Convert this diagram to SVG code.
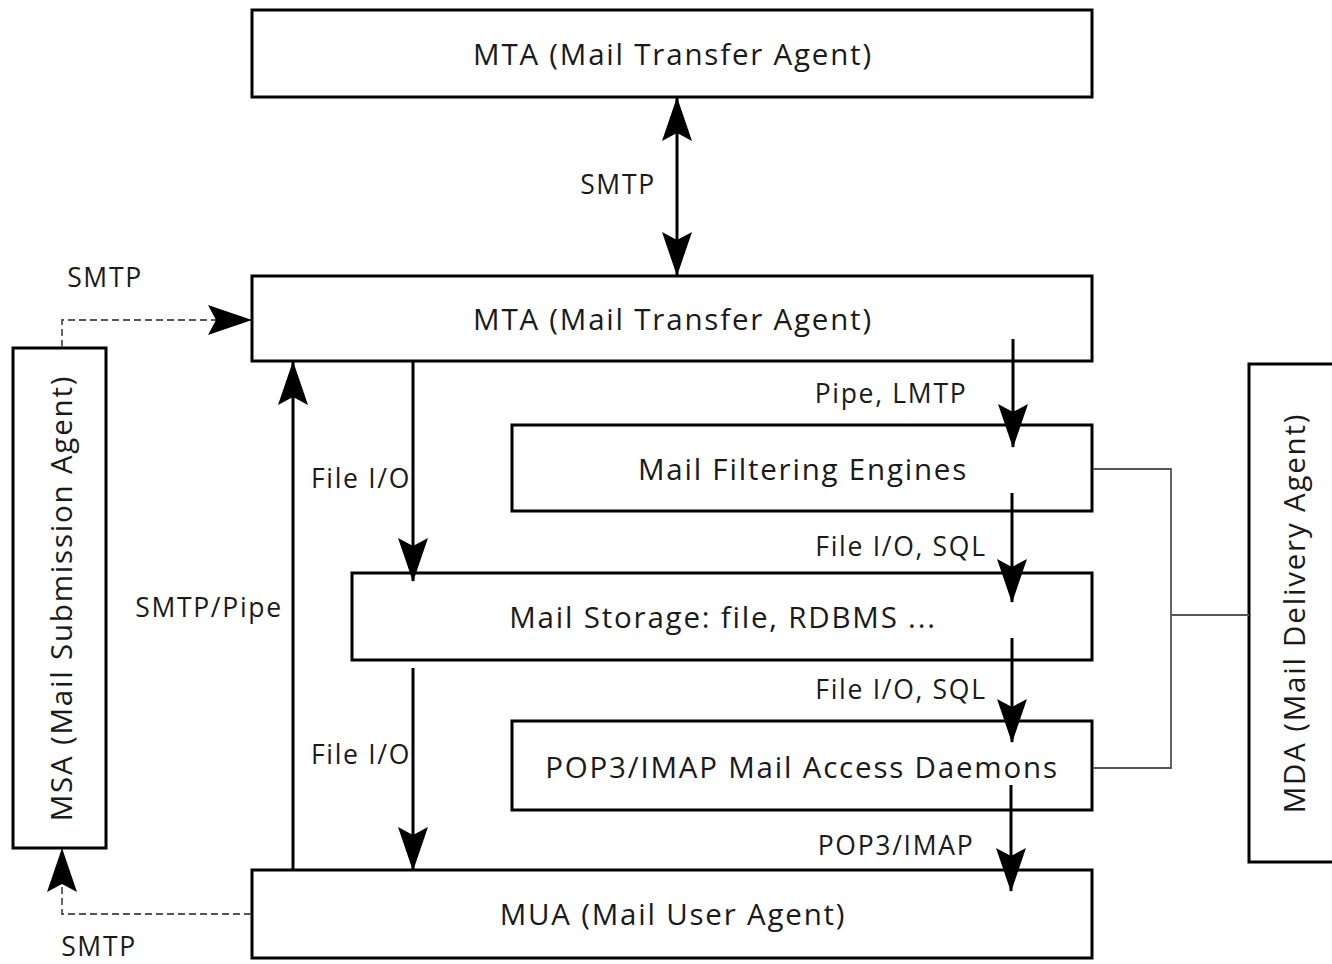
<svg xmlns="http://www.w3.org/2000/svg" width="1332" height="964" viewBox="0 0 1332 964">
<style>
.box{fill:#fff;stroke:#000;stroke-width:3}
.t{font-family:"Open Sans","Noto Sans",sans-serif;font-size:29.5px;letter-spacing:1.8px;fill:#1a1a1a;text-anchor:middle;dominant-baseline:central}
.l{font-family:"Open Sans","Noto Sans",sans-serif;font-size:26.5px;letter-spacing:1.7px;fill:#1a1a1a;text-anchor:middle;dominant-baseline:central}
.c{fill:none;stroke:#000;stroke-width:3}
.d{fill:none;stroke:#555;stroke-width:1.8;stroke-dasharray:7,4}
.g{fill:none;stroke:#555;stroke-width:1.8}
</style>
<defs>
<marker id="ah" viewBox="0 0 44 32" refX="43" refY="16" markerWidth="44" markerHeight="32" markerUnits="userSpaceOnUse" orient="auto-start-reverse">
<path d="M0,1 L44,16 L0,31 L8,16 Z" fill="#000"/>
</marker>
</defs>
<rect width="1332" height="964" fill="#fff"/>
<g id="mta-top"><rect class="box" x="252" y="10" width="840" height="87"/><text class="t" x="673" y="53">MTA (Mail Transfer Agent)</text></g>
<g id="mta-mid"><rect class="box" x="252" y="276" width="840" height="85"/><text class="t" x="673" y="318">MTA (Mail Transfer Agent)</text></g>
<g id="filter"><rect class="box" x="512" y="425" width="580" height="86"/><text class="t" x="803" y="468">Mail Filtering Engines</text></g>
<g id="storage"><rect class="box" x="352" y="573" width="740" height="87"/><text class="t" x="723" y="616">Mail Storage: file, RDBMS ...</text></g>
<g id="pop3"><rect class="box" x="512" y="721" width="580" height="89"/><text class="t" x="802" y="766">POP3/IMAP Mail Access Daemons</text></g>
<g id="mua"><rect class="box" x="252" y="870" width="840" height="88"/><text class="t" x="673" y="913">MUA (Mail User Agent)</text></g>
<g id="msa"><rect class="box" x="13" y="348" width="93" height="500"/><text class="t" transform="translate(60,598) rotate(-90)">MSA (Mail Submission Agent)</text></g>
<g id="mda"><rect class="box" x="1249" y="364" width="100" height="498"/><text class="t" transform="translate(1293,613) rotate(-90)">MDA (Mail Delivery Agent)</text></g>
<g id="connectors">
<line class="c" x1="677" y1="98" x2="677" y2="275" marker-start="url(#ah)" marker-end="url(#ah)"/>
<path class="d" d="M62,347 V320 H251" marker-end="url(#ah)"/>
<path class="d" d="M251,914 H62 V849" marker-end="url(#ah)"/>
<line class="c" x1="293" y1="870" x2="293" y2="362" marker-end="url(#ah)"/>
<line class="c" x1="413" y1="362" x2="413" y2="581" marker-end="url(#ah)"/>
<line class="c" x1="413" y1="668" x2="413" y2="870" marker-end="url(#ah)"/>
<line class="c" x1="1013" y1="339" x2="1013" y2="447" marker-end="url(#ah)"/>
<line class="c" x1="1012" y1="493" x2="1012" y2="602" marker-end="url(#ah)"/>
<line class="c" x1="1012" y1="638" x2="1012" y2="742" marker-end="url(#ah)"/>
<line class="c" x1="1011" y1="785" x2="1011" y2="891" marker-end="url(#ah)"/>
<path class="g" d="M1093,469 H1171 V768 H1093 M1171,615 H1249"/>
<text class="l" x="618" y="184">SMTP</text>
<text class="l" x="105" y="277">SMTP</text>
<text class="l" x="99" y="946">SMTP</text>
<text class="l" x="209" y="607">SMTP/Pipe</text>
<text class="l" x="361" y="478">File I/O</text>
<text class="l" x="361" y="754">File I/O</text>
<text class="l" x="891" y="393">Pipe, LMTP</text>
<text class="l" x="901" y="546">File I/O, SQL</text>
<text class="l" x="901" y="689">File I/O, SQL</text>
<text class="l" x="896" y="845">POP3/IMAP</text>
</g>
</svg>
